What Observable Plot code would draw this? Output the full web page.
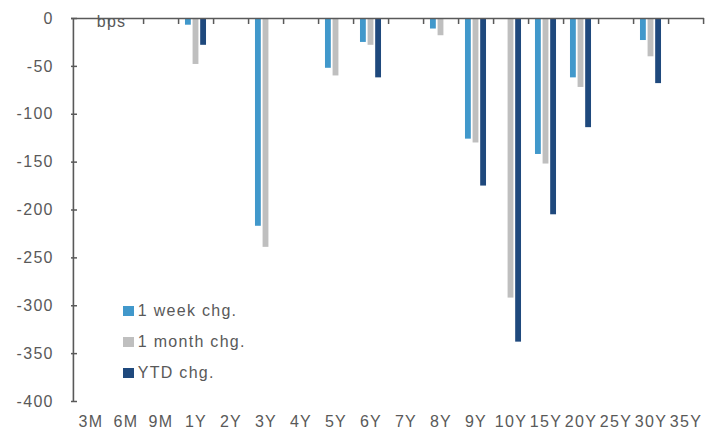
<!DOCTYPE html>
<html>
<head>
<meta charset="utf-8">
<script src="https://cdn.jsdelivr.net/npm/d3@7"></script>
<script src="https://cdn.jsdelivr.net/npm/@observablehq/plot@0.6"></script>
<style>
  body { margin: 0; background: #fff; }
  #chart { position: relative; width: 716px; height: 432px; font-family: "Liberation Sans", Arial, sans-serif; color: #595959; }
  .note { position: absolute; font-size: 16px; line-height: 16px; letter-spacing: 1.3px; white-space: nowrap; }
  #legend { position: absolute; left: 123px; top: 295px; }
  .row { display: flex; align-items: center; height: 31.3px; font-size: 16px; line-height: 16px; letter-spacing: 1.3px; white-space: nowrap; }
  .sw { width: 11px; height: 10px; margin-right: 3.7px; }
</style>
</head>
<body>
<div id="chart"></div>
<script>
// Curve tenors and yield changes in basis points (null = no change reported)
const tenors = ["3M", "6M", "9M", "1Y", "2Y", "3Y", "4Y", "5Y", "6Y", "7Y", "8Y", "9Y", "10Y", "15Y", "20Y", "25Y", "30Y", "35Y"];
const weekChg  = [null, null, null,  -7, null, -217, null, -52, -25, null, -11, -126, null, -142,  -62, null, -23, null];
const monthChg = [null, null, null, -48, null, -239, null, -60, -28, null, -18, -130, -292, -152,  -72, null, -40, null];
const ytdChg   = [null, null, null, -28, null, null, null, null, -62, null, null, -175, -338, -205, -114, null, -68, null];
const yTicks = [0, -50, -100, -150, -200, -250, -300, -350, -400];

const seriesNames = ["1 week chg.", "1 month chg.", "YTD chg."];
const seriesColors = ["#4198CB", "#BFBFBF", "#1F497D"];
const seriesValues = [weekChg, monthChg, ytdChg];

const W = 716, H = 432;
const mL = 71, mR = 12, mT = 18, mB = 31;
const fw = W - mL - mR, fh = H - mT - mB;
const bw = fw / tenors.length;   // width of one tenor slot
const barW = 6, barStep = 7.6;   // bar width and spacing inside a slot
const axisColor = "#595959";

// One bar mark per series, shifted inside each tenor slot via insets
const barMarks = seriesValues.map((vals, k) => {
  const rows = tenors.map((t, i) => ({tenor: t, value: vals[i]})).filter(d => d.value != null);
  const left = bw / 2 + (k - 1) * barStep - barW / 2;
  return Plot.barY(rows, {
    x: "tenor", y: "value", fill: seriesColors[k],
    insetLeft: left, insetRight: bw - left - barW
  });
});

const chart = Plot.plot({
  width: W, height: H,
  marginLeft: mL, marginRight: mR, marginTop: mT, marginBottom: mB,
  style: {fontFamily: "'Liberation Sans', Arial, sans-serif", fontSize: "16px", color: axisColor, letterSpacing: "1.3px", background: "#fff"},
  x: {domain: tenors, padding: 0, label: null},
  y: {domain: [-400, 0], label: null},
  marks: [
    ...barMarks,
    // zero line along the top and the vertical axis line
    Plot.ruleY([0], {stroke: axisColor, strokeWidth: 1.6}),
    Plot.ruleX([tenors[0]], {dx: -bw / 2, stroke: axisColor, strokeWidth: 1.6}),
    // inward tick marks
    Plot.tickY(yTicks, {y: d => d, stroke: axisColor, strokeWidth: 1.5, insetRight: fw - 6}),
    Plot.ruleX(tenors, {dx: bw / 2, stroke: axisColor, strokeWidth: 1.5, insetBottom: fh - 6}),
    Plot.axisY({ticks: yTicks, tickSize: 0, tickPadding: 17.7, tickFormat: d => String(d), label: null}),
    Plot.axisX({tickSize: 0, tickPadding: 14, label: null})
  ]
});

const root = document.getElementById("chart");
root.appendChild(chart);

const unit = document.createElement("div");
unit.className = "note";
unit.style.left = "96.7px";
unit.style.top = "14px";
unit.textContent = "bps";
root.appendChild(unit);

const legend = document.createElement("div");
legend.id = "legend";
seriesNames.forEach((name, k) => {
  const row = document.createElement("div");
  row.className = "row";
  const sw = document.createElement("span");
  sw.className = "sw";
  sw.style.background = seriesColors[k];
  const tx = document.createElement("span");
  tx.textContent = name;
  row.appendChild(sw);
  row.appendChild(tx);
  legend.appendChild(row);
});
root.appendChild(legend);
</script>
</body>
</html>
